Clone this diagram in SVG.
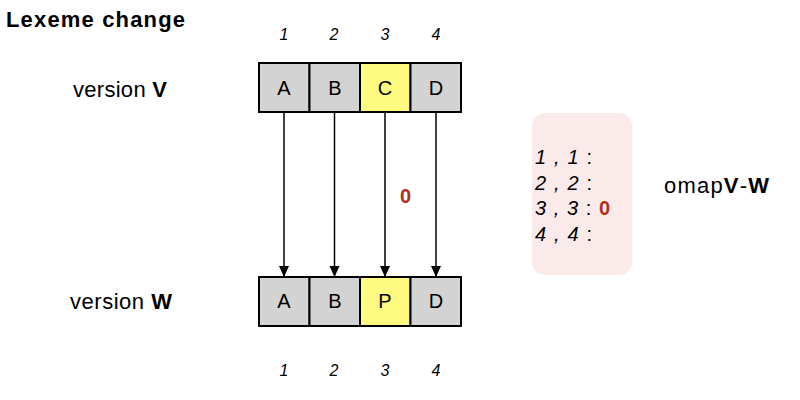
<svg xmlns="http://www.w3.org/2000/svg" width="800" height="400" viewBox="0 0 800 400">
<defs>
<marker id="ah" markerWidth="12" markerHeight="12" refX="10" refY="5" orient="auto" markerUnits="userSpaceOnUse">
<path d="M0,0 L11,5 L0,10 z" fill="#000"/>
</marker>
<style>
text{font-family:"Liberation Sans",Arial,sans-serif;fill:#000}
.cell{fill:#d3d3d3;stroke:#000;stroke-width:2}
.hl{fill:#fffb80;stroke:#000;stroke-width:2}
.lt{font-size:20px;text-anchor:middle}
.idx{font-size:16px;font-style:italic;text-anchor:middle}
.lab{font-size:22px}
.red{fill:#b0301e;font-weight:bold}
.om{font-size:20px;font-style:italic}
.conn{stroke:#000;stroke-width:1.5;fill:none}
</style>
</defs>
<text x="6" y="27" style="font-size:22px;font-weight:bold" textLength="179">Lexeme change</text>
<g id="labelV"><text class="lab" x="73" y="97" textLength="94">version <tspan font-weight="bold">V</tspan></text></g>
<g id="labelW"><text class="lab" x="70" y="309" textLength="102">version <tspan font-weight="bold">W</tspan></text></g>
<g id="topidx">
<text class="idx" x="284" y="40">1</text><text class="idx" x="334" y="40">2</text><text class="idx" x="385" y="40">3</text><text class="idx" x="436" y="40">4</text>
</g>
<g id="V">
<g id="V1"><rect class="cell" x="259" y="63" width="50.5" height="49"/><text class="lt" x="284" y="95">A</text></g>
<g id="V2"><rect class="cell" x="309.5" y="63" width="50.5" height="49"/><text class="lt" x="335" y="95">B</text></g>
<g id="V3"><rect class="hl" x="360" y="63" width="50.5" height="49"/><text class="lt" x="385" y="95">C</text></g>
<g id="V4"><rect class="cell" x="410.5" y="63" width="50.5" height="49"/><text class="lt" x="436" y="95">D</text></g>
</g>
<g id="W">
<g id="W1"><rect class="cell" x="259" y="277" width="50.5" height="49"/><text class="lt" x="284" y="308">A</text></g>
<g id="W2"><rect class="cell" x="309.5" y="277" width="50.5" height="49"/><text class="lt" x="335" y="308">B</text></g>
<g id="W3"><rect class="hl" x="360" y="277" width="50.5" height="49"/><text class="lt" x="385" y="308">P</text></g>
<g id="W4"><rect class="cell" x="410.5" y="277" width="50.5" height="49"/><text class="lt" x="436" y="308">D</text></g>
</g>
<g id="botidx">
<text class="idx" x="284" y="376">1</text><text class="idx" x="334" y="376">2</text><text class="idx" x="385" y="376">3</text><text class="idx" x="436" y="376">4</text>
</g>
<g id="connectors">
<line class="conn" x1="284" y1="113" x2="284" y2="276" marker-end="url(#ah)"/>
<line class="conn" x1="334.5" y1="113" x2="334.5" y2="276" marker-end="url(#ah)"/>
<line class="conn" x1="385" y1="113" x2="385" y2="276" marker-end="url(#ah)"/>
<line class="conn" x1="436" y1="113" x2="436" y2="276" marker-end="url(#ah)"/>
<text class="red" x="400" y="203" style="font-size:20px">0</text>
</g>
<g id="omap">
<rect x="532" y="113" width="100" height="162" rx="13" fill="#fbeaea"/>
<text class="om" x="535" y="164" textLength="57">1 , 1 <tspan font-style="normal">:</tspan></text>
<text class="om" x="535" y="190" textLength="57">2 , 2 <tspan font-style="normal">:</tspan></text>
<text class="om" x="535" y="215" textLength="75">3 , 3 <tspan font-style="normal">:</tspan> <tspan class="red" font-style="normal" font-size="20px">0</tspan></text>
<text class="om" x="535" y="241" textLength="57">4 , 4 <tspan font-style="normal">:</tspan></text>
</g>
<g id="omaplabel"><text class="lab" x="664" y="193" textLength="105">omap<tspan font-weight="bold">V</tspan>-<tspan font-weight="bold">W</tspan></text></g>
</svg>
